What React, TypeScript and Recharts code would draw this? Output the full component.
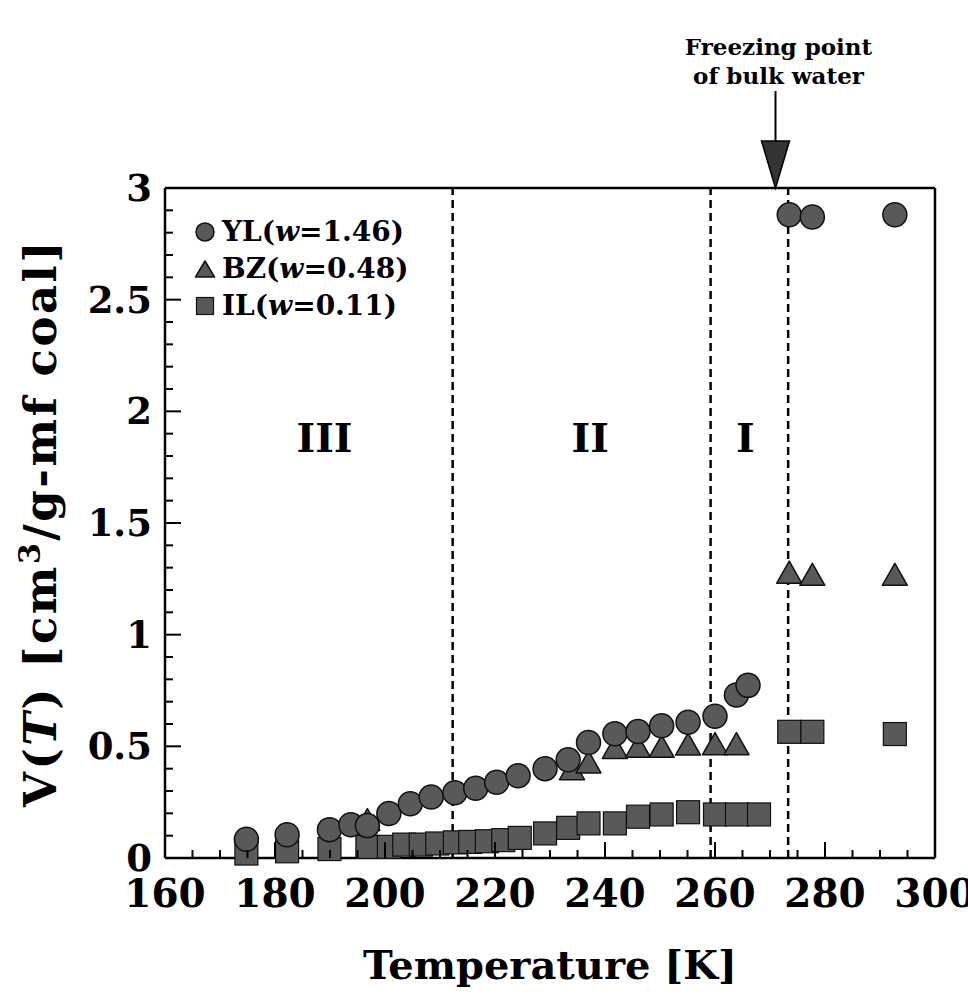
import React from "react";
import {
  ScatterChart,
  Scatter,
  XAxis,
  YAxis,
  ReferenceLine,
  ReferenceDot,
  Legend,
} from "recharts";

// temperatures [K] and pore volumes V(T) [cm3/g-mf coal]
const ylT = [174.8, 182.2, 189.9, 193.8, 196.8, 200.7, 204.6, 208.4, 212.7, 216.5, 220.3, 224.2, 229.1, 233.3, 237.0, 241.8, 246.0, 250.3, 255.1, 260.0, 263.9, 266.0, 273.5, 277.7, 292.7];
const ylV = [0.084, 0.104, 0.127, 0.149, 0.145, 0.199, 0.243, 0.273, 0.292, 0.312, 0.339, 0.368, 0.4, 0.44, 0.517, 0.556, 0.566, 0.592, 0.608, 0.635, 0.73, 0.773, 2.88, 2.87, 2.88];

const bzT = [196.8, 234.0, 237.0, 241.8, 246.0, 250.3, 255.1, 260.0, 263.9, 273.5, 277.7, 292.7];
const bzV = [0.172, 0.4, 0.43, 0.495, 0.5, 0.5, 0.51, 0.512, 0.512, 1.28, 1.27, 1.27];

const ilT = [174.8, 182.2, 189.9, 196.8, 200.7, 203.5, 206.5, 209.5, 212.7, 215.5, 218.5, 221.5, 224.5, 229.1, 233.3, 237.0, 241.8, 246.0, 250.3, 255.1, 260.0, 264.0, 268.0, 273.5, 277.7, 292.7];
const ilV = [0.02, 0.03, 0.04, 0.05, 0.05, 0.06, 0.06, 0.065, 0.07, 0.072, 0.075, 0.08, 0.09, 0.11, 0.135, 0.155, 0.155, 0.185, 0.195, 0.205, 0.195, 0.195, 0.195, 0.565, 0.565, 0.555];

const xTicks = [160, 165, 170, 175, 180, 185, 190, 195, 200, 205, 210, 215, 220, 225, 230, 235, 240, 245, 250, 255, 260, 265, 270, 275, 280, 285, 290, 295, 300];
const yTicks = [0, 0.1, 0.2, 0.3, 0.4, 0.5, 0.6, 0.7, 0.8, 0.9, 1, 1.1, 1.2, 1.3, 1.4, 1.5, 1.6, 1.7, 1.8, 1.9, 2, 2.1, 2.2, 2.3, 2.4, 2.5, 2.6, 2.7, 2.8, 2.9, 3];

const boundaryT = [212.3, 259.2, 273.3];
const regionNames = ["III", "II", "I"];
const regionT = [189, 237.3, 265.5];
const regionV = 1.88;
const freezeArrowT = 271;

const seriesNames = ["YL", "BZ", "IL"];
const seriesW = ["1.46", "0.48", "0.11"];

const toPoints = (ts: number[], vs: number[]) => ts.map((t, i) => ({ t, v: vs[i] }));
const ylData = toPoints(ylT, ylV);
const bzData = toPoints(bzT, bzV);
const ilData = toPoints(ilT, ilV);

const FONT = "'DejaVu Serif', serif";
const FILL = "#595959";
const EDGE = "#111";

const isMajorX = (v: number) => v % 20 === 0;
const isMajorY = (v: number) => Math.abs(v * 2 - Math.round(v * 2)) < 1e-6;

const CircleMark = ({ cx, cy, r = 12 }: any) => (
  <circle cx={cx} cy={cy} r={r} fill={FILL} stroke={EDGE} strokeWidth={1.5} />
);
const SquareMark = ({ cx, cy, s = 23 }: any) => (
  <rect x={cx - s / 2} y={cy - s / 2} width={s} height={s} fill={FILL} stroke={EDGE} strokeWidth={1.2} />
);
const TriangleMark = ({ cx, cy, w = 25, h = 22 }: any) => (
  <polygon
    points={`${cx - w / 2},${cy + h / 2} ${cx + w / 2},${cy + h / 2} ${cx},${cy - h / 2}`}
    fill={FILL}
    stroke={EDGE}
    strokeWidth={1.5}
    strokeLinejoin="round"
  />
);

const BottomTick = ({ x, y, payload }: any) => {
  const major = isMajorX(payload.value);
  return (
    <g>
      <line x1={x} x2={x} y1={y} y2={y - (major ? 16 : 8)} stroke="#000" strokeWidth={2} />
      {major && (
        <text x={x} y={y + 49} textAnchor="middle" fontFamily={FONT} fontWeight="bold" fontSize={39} fill="#000">
          {payload.value}
        </text>
      )}
    </g>
  );
};
const TopTick = ({ x, y, payload }: any) => (
  <line x1={x} x2={x} y1={y} y2={y + (isMajorX(payload.value) ? 16 : 8)} stroke="#000" strokeWidth={2} />
);
const LeftTick = ({ x, y, payload }: any) => {
  const major = isMajorY(payload.value);
  return (
    <g>
      <line x1={x} x2={x + (major ? 16 : 8)} y1={y} y2={y} stroke="#000" strokeWidth={2} />
      {major && (
        <text x={x - 13} y={y + 13} textAnchor="end" fontFamily={FONT} fontWeight="bold" fontSize={37} fill="#000">
          {String(payload.value)}
        </text>
      )}
    </g>
  );
};
const RightTick = ({ x, y, payload }: any) => (
  <line x1={x} x2={x - (isMajorY(payload.value) ? 16 : 8)} y1={y} y2={y} stroke="#000" strokeWidth={2} />
);

const LegendBox = () => {
  const marks = [CircleMark, TriangleMark, SquareMark];
  return (
    <div style={{ fontFamily: FONT, fontWeight: "bold", fontSize: 28, color: "#000", lineHeight: "37px" }}>
      {seriesNames.map((n, i) => {
        const Mark = marks[i];
        return (
          <div key={n} style={{ display: "flex", alignItems: "center" }}>
            <svg width={22} height={22} style={{ marginRight: 6 }}>
              <Mark cx={11} cy={11} r={9} s={17} w={19} h={16} />
            </svg>
            <span>
              {n}(<i>w</i>={seriesW[i]})
            </span>
          </div>
        );
      })}
    </div>
  );
};

const FreezeArrow = ({ cx, cy }: any) => (
  <g>
    <text x={cx + 3} y={cy - 133} textAnchor="middle" fontFamily={FONT} fontWeight="bold" fontSize={23} fill="#000">
      Freezing point
    </text>
    <text x={cx + 3} y={cy - 104} textAnchor="middle" fontFamily={FONT} fontWeight="bold" fontSize={23} fill="#000">
      of bulk water
    </text>
    <line x1={cx} x2={cx} y1={cy - 97} y2={cy - 45} stroke="#000" strokeWidth={2} />
    <polygon points={`${cx - 14},${cy - 47} ${cx + 14},${cy - 47} ${cx},${cy}`} fill="#333" stroke="#000" strokeWidth={1.5} />
  </g>
);

const RegionLabel = (name: string) => ({ cx, cy }: any) => (
  <text x={cx} y={cy + 14} textAnchor="middle" fontFamily={FONT} fontWeight="bold" fontSize={40} fill="#000">
    {name}
  </text>
);

const XTitle = ({ viewBox }: any) => (
  <text
    x={viewBox.x + viewBox.width / 2}
    y={viewBox.y + 121}
    textAnchor="middle"
    fontFamily={FONT}
    fontWeight="bold"
    fontSize={40}
    fill="#000"
  >
    Temperature [K]
  </text>
);

const YTitle = ({ viewBox }: any) => {
  const cx = 42;
  const cy = viewBox.y + viewBox.height / 2;
  return (
    <text
      x={cx}
      y={cy}
      dy={14}
      transform={`rotate(-90 ${cx} ${cy})`}
      textAnchor="middle"
      fontFamily={FONT}
      fontWeight="bold"
      fontSize={45}
      letterSpacing={2.5}
      fill="#000"
    >
      V(<tspan fontStyle="italic">T</tspan>) [cm
      <tspan dy={-16} fontSize={30}>3</tspan>
      <tspan dy={16}>/g-mf coal]</tspan>
    </text>
  );
};

export default function App() {
  return (
    <div style={{ width: 968, height: 1000, background: "#fff" }}>
      <style>{`body{margin:0}`}</style>
      <ScatterChart width={968} height={1000} margin={{ top: 187, right: 32, bottom: 72, left: 65 }}>
        <XAxis
          xAxisId="b"
          type="number"
          dataKey="t"
          domain={[160, 300]}
          ticks={xTicks}
          interval={0}
          tickSize={0}
          tickMargin={0}
          height={70}
          axisLine={{ stroke: "#000", strokeWidth: 2.5 }}
          tick={<BottomTick />}
          label={{ content: <XTitle /> }}
        />
        <XAxis
          xAxisId="t"
          orientation="top"
          type="number"
          dataKey="t"
          domain={[160, 300]}
          ticks={xTicks}
          interval={0}
          tickSize={0}
          tickMargin={0}
          height={1}
          axisLine={{ stroke: "#000", strokeWidth: 2.5 }}
          tick={<TopTick />}
        />
        <YAxis
          yAxisId="l"
          type="number"
          dataKey="v"
          domain={[0, 3]}
          ticks={yTicks}
          interval={0}
          tickSize={0}
          tickMargin={0}
          width={100}
          axisLine={{ stroke: "#000", strokeWidth: 2.5 }}
          tick={<LeftTick />}
          label={{ content: <YTitle /> }}
        />
        <YAxis
          yAxisId="r"
          orientation="right"
          type="number"
          dataKey="v"
          domain={[0, 3]}
          ticks={yTicks}
          interval={0}
          tickSize={0}
          tickMargin={0}
          width={1}
          axisLine={{ stroke: "#000", strokeWidth: 2.5 }}
          tick={<RightTick />}
        />
        {boundaryT.map((t) => (
          <ReferenceLine key={t} x={t} xAxisId="b" yAxisId="l" stroke="#000" strokeWidth={2.5} strokeDasharray="8 5" />
        ))}
        {regionNames.map((n, i) => (
          <ReferenceDot key={n} x={regionT[i]} y={regionV} xAxisId="b" yAxisId="l" ifOverflow="visible" shape={RegionLabel(n)} />
        ))}
        <ReferenceDot x={freezeArrowT} y={3} xAxisId="b" yAxisId="l" ifOverflow="visible" shape={<FreezeArrow />} />
        <Scatter name="IL" data={ilData} xAxisId="b" yAxisId="l" shape={<SquareMark />} isAnimationActive={false} />
        <Scatter name="BZ" data={bzData} xAxisId="b" yAxisId="l" shape={<TriangleMark />} isAnimationActive={false} />
        <Scatter name="YL" data={ylData} xAxisId="b" yAxisId="l" shape={<CircleMark />} isAnimationActive={false} />
        <Scatter data={[]} xAxisId="t" yAxisId="r" isAnimationActive={false} />
        <Legend
          layout="vertical"
          align="center"
          verticalAlign="middle"
          wrapperStyle={{ position: "absolute", left: 194, top: 213, width: "auto" }}
          content={<LegendBox />}
        />
      </ScatterChart>
    </div>
  );
}
